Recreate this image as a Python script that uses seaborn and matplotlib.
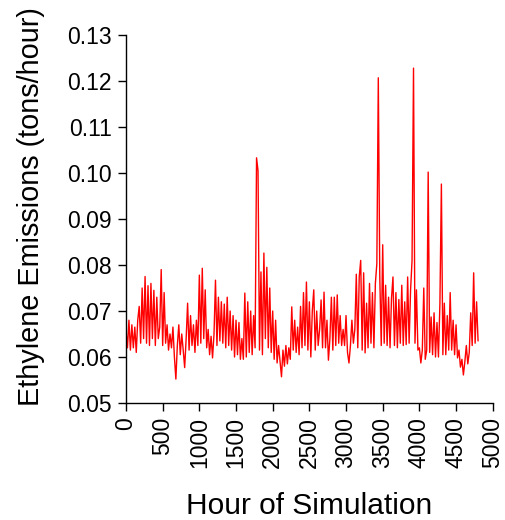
import matplotlib
matplotlib.use("Agg")
import matplotlib.pyplot as plt
import numpy as np
import pandas as pd
import seaborn as sns

# Hour of simulation (20-hour sampling of the trace)
hours = list(range(0, 4801, 20))

emis_0000 = [0.066, 0.062, 0.068, 0.0615, 0.067, 0.062, 0.0665, 0.061, 0.068, 0.071,
             0.063, 0.075, 0.064, 0.0775, 0.063, 0.0755, 0.0625, 0.076, 0.064, 0.0745,
             0.0625, 0.073, 0.064, 0.0665, 0.079]
emis_0500 = [0.0625, 0.074, 0.063, 0.067, 0.0615, 0.065, 0.062, 0.0665, 0.060, 0.0552,
             0.0625, 0.067, 0.0605, 0.065, 0.0615, 0.0577, 0.064, 0.0717, 0.0615, 0.069,
             0.0625, 0.067, 0.061, 0.068, 0.0625]
emis_1000 = [0.0778, 0.063, 0.0793, 0.064, 0.0746, 0.062, 0.066, 0.0605, 0.0645, 0.0598,
             0.065, 0.0767, 0.0625, 0.073, 0.0635, 0.072, 0.063, 0.0715, 0.062, 0.073,
             0.0625, 0.070, 0.0615, 0.069, 0.060]
emis_1500 = [0.068, 0.0605, 0.0675, 0.0595, 0.064, 0.0595, 0.0739, 0.060, 0.072, 0.061,
             0.070, 0.0605, 0.069, 0.062, 0.1033, 0.1005, 0.0615, 0.0785, 0.0605, 0.0826,
             0.064, 0.0795, 0.062, 0.075, 0.061]
emis_2000 = [0.070, 0.0595, 0.068, 0.0587, 0.0625, 0.059, 0.0557, 0.0615, 0.058, 0.0625,
             0.0585, 0.062, 0.0595, 0.0709, 0.0615, 0.068, 0.061, 0.0665, 0.0605, 0.071,
             0.062, 0.074, 0.0625, 0.0763, 0.0615]
emis_2500 = [0.072, 0.060, 0.070, 0.0746, 0.0615, 0.070, 0.0625, 0.066, 0.0724, 0.062,
             0.0741, 0.062, 0.068, 0.0593, 0.064, 0.073, 0.0615, 0.073, 0.0625, 0.0735,
             0.063, 0.069, 0.0625, 0.066, 0.0625]
emis_3000 = [0.069, 0.061, 0.0587, 0.0625, 0.068, 0.063, 0.066, 0.078, 0.062, 0.0774,
             0.081, 0.0615, 0.0783, 0.0609, 0.0717, 0.062, 0.076, 0.063, 0.074, 0.062,
             0.076, 0.0803, 0.1207, 0.0775, 0.0625]
emis_3500 = [0.0844, 0.063, 0.0756, 0.0625, 0.073, 0.062, 0.0728, 0.0774, 0.0625, 0.074,
             0.062, 0.0725, 0.063, 0.0756, 0.0625, 0.072, 0.0627, 0.0774, 0.063, 0.0746,
             0.081, 0.1228, 0.063, 0.0746, 0.0615]
emis_4000 = [0.062, 0.0587, 0.0615, 0.075, 0.0595, 0.0615, 0.1002, 0.061, 0.0687, 0.0605,
             0.0696, 0.060, 0.0675, 0.060, 0.0717, 0.0976, 0.0605, 0.0717, 0.0605, 0.069,
             0.0615, 0.074, 0.0615, 0.068, 0.0605]
emis_4500 = [0.067, 0.0598, 0.0615, 0.0578, 0.0595, 0.0561, 0.059, 0.0625, 0.0585, 0.061,
             0.0696, 0.0625, 0.0783, 0.063, 0.072, 0.0635]

emissions = (emis_0000 + emis_0500 + emis_1000 + emis_1500 + emis_2000 +
             emis_2500 + emis_3000 + emis_3500 + emis_4000 + emis_4500)

x_ticks = [0, 500, 1000, 1500, 2000, 2500, 3000, 3500, 4000, 4500, 5000]
y_ticks = [0.05, 0.06, 0.07, 0.08, 0.09, 0.10, 0.11, 0.12, 0.13]

df = pd.DataFrame({"hour": hours, "emis": emissions})

sns.set_style("ticks")
plt.rcParams['font.family'] = ['Liberation Sans', 'DejaVu Sans']
plt.rcParams['text.color'] = 'black'
plt.rcParams['axes.labelcolor'] = 'black'

fig = plt.figure(figsize=(5.05, 5.2), dpi=100)
ax = fig.add_axes([0.2495, 0.225, 0.7262, 0.7077])

sns.lineplot(data=df, x="hour", y="emis", ax=ax, color="#ff0000", linewidth=1.0,
             estimator=None, sort=False)

ax.set_xlim(0, 5000)
ax.set_ylim(0.05, 0.13)
ax.set_xticks(x_ticks)
ax.set_xticklabels([str(t) for t in x_ticks], rotation=90, fontsize=16.5)
ax.set_yticks(y_ticks)
ax.set_yticklabels([f"{t:.2f}" for t in y_ticks], fontsize=16.5)
ax.tick_params(axis="both", direction="out", length=6, width=1, color="black",
               labelcolor="black", pad=4)
for s in ["top", "right"]:
    ax.spines[s].set_visible(False)
for s in ["left", "bottom"]:
    ax.spines[s].set_color("black")
    ax.spines[s].set_linewidth(1)

ax.set_xlabel("Hour of Simulation", fontsize=21.5, labelpad=17, color="black")
ax.set_ylabel("Ethylene Emissions (tons/hour)", fontsize=20.8, color="black")
ax.yaxis.set_label_coords(-0.222, 0.533)

fig.savefig("out.png", dpi=100, facecolor="white")
